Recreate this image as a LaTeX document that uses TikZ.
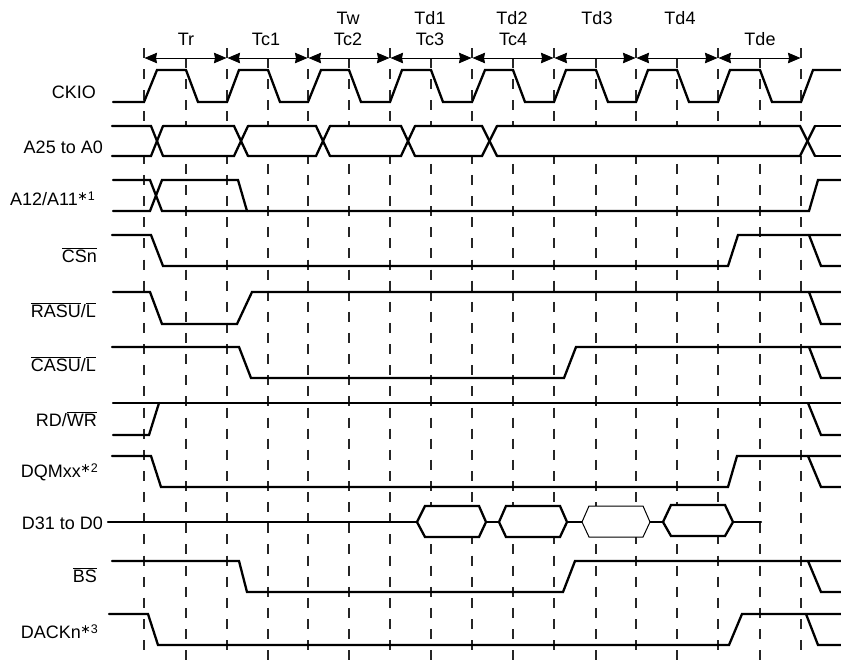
\documentclass[tikz,border=0pt]{standalone}
\usepackage{fontspec}
\setmainfont{Liberation Sans}
\newfontfamily\symfont{DejaVu Sans}
\usetikzlibrary{arrows.meta}

\newcommand{\ovl}[1]{$\overline{\mbox{#1}}$}
\newcommand{\nte}[1]{\raisebox{4.5pt}{\fontsize{12.5}{13}\selectfont\kern-0.5pt{\symfont ∗}#1}}

\begin{document}
\begin{tikzpicture}[
  x=1pt, y=-1pt,
  >={Stealth[length=12.5pt, width=10.5pt, inset=1pt]},
  font=\fontsize{18}{20}\selectfont,
  lbl/.style={anchor=base east, inner sep=0pt},
  hdr/.style={anchor=base, inner sep=0pt},
  tick/.style={line width=1.2pt, black!85, dash pattern=on 10pt off 11.15pt},
  span/.style={<->, line width=0.9pt, shorten <=0.5pt, shorten >=0.5pt},
  sig/.style={line width=2.3pt, line join=miter, line cap=round},
  bus/.style={sig, fill=white, line cap=butt},
]
  \useasboundingbox (0,0) rectangle (841,662);
  \fill[white] (0,0) rectangle (841,662);

  % dashed clock lines, one pair per cycle
  \foreach \xa/\xb [count=\i] in {144/186, 227/268, 308/349, 390/431, 472/513,
      554/596, 636/677, 718/760} {
    \draw[tick] (\xa,48) -- (\xa,652);
    \draw[tick] (\xb,58) -- (\xb,662);
    \coordinate (t\i) at (\xa,58);
  }
  \draw[tick] (801,48) -- (801,652);
  \coordinate (t9) at (801,58);

  \foreach \i [evaluate=\i as \j using {int(\i + 1)}] in {1, ..., 8}
    \draw[span] (t\i) -- (t\j);

  \foreach \name/\x/\y/\txt in {%
      tr/186/45/Tr, tca/266/45/Tc1, tw/348/24/Tw, tcb/348/45/Tc2, tda/430/24/Td1,
      tcc/430/45/Tc3, tdb/512/24/Td2, tcd/513/45/Tc4, tdc/597/24/Td3, tdd/680/24/Td4,
      tde/760/45/Tde}
    \node[hdr] (\name) at (\x,\y) {\txt};

  \foreach \name/\x/\y/\txt in {%
      ckio/96/98/CKIO, addr/103/153/A25 to A0, abank/95/205/{A12/A11\nte{1}},
      csn/97/262/{\ovl{CSn}}, rasu/96/317/{\ovl{RASU}/\ovl{L}},
      casu/96/371/{\ovl{CASU}/\ovl{L}}, rdwr/97/426/{RD/\ovl{WR}},
      dqm/98/477/{DQMxx\nte{2}}, data/103/529/D31 to D0, bsn/97/582/{\ovl{BS}},
      dack/98/638/{DACKn\nte{3}}}
    \node[lbl] (\name) at (\x,\y) {\txt};

  % CKIO
  \draw[sig] (113,102) -- (144,102) -- (157,70) -- (186,70) -- (198,102)
    -- (227,102) -- (239,70) -- (268,70) -- (280,102)
    -- (308,102) -- (321,70) -- (349,70) -- (361,102)
    -- (390,102) -- (402,70) -- (431,70) -- (443,102)
    -- (472,102) -- (485,70) -- (513,70) -- (525,102)
    -- (554,102) -- (566,70) -- (596,70) -- (608,102)
    -- (636,102) -- (648,70) -- (677,70) -- (689,102)
    -- (718,102) -- (730,70) -- (760,70) -- (772,102)
    -- (801,102) -- (813,70) -- (841,70);

  % A25 to A0
  \fill[white] (112,126) rectangle (841,156);
  \foreach \xa/\xb [remember=\xb as \xp (initially 112)] in {%
      151/163, 234/248, 316/330, 401/415, 482/497, 800/815} {
    \draw[sig] (\xp,126) -- (\xa,126) -- (\xb,156);
    \draw[sig] (\xp,156) -- (\xa,156) -- (\xb,126);
  }
  \draw[sig] (815,126) -- (841,126);
  \draw[sig] (815,156) -- (841,156);

  % A12/A11
  \draw[sig] (113,180) -- (150,180) -- (162,211) -- (809,211) -- (818,180) -- (841,180);
  \draw[sig] (113,211) -- (150,211) -- (162,180) -- (238,180) -- (247,211);

  % falling, rising, then falling again at the end of the cycle
  \foreach \hi/\lo/\xs/\fa/\fe/\ra/\re/\ea/\ee in {%
      235/266/112/151/163/728/738/809/821,
      292/324/113/150/162/237/252/809/821,
      347/378/112/239/251/564/576/809/821,
      456/487/112/151/161/728/737/808/821,
      561/592/112/239/247/563/575/808/821,
      614/645/109/148/158/729/742/806/818} {
    \draw[sig] (\xs,\hi) -- (\fa,\hi) -- (\fe,\lo) -- (\ra,\lo) -- (\re,\hi) -- (841,\hi);
    \draw[sig] (\ea,\hi) -- (\ee,\lo) -- (841,\lo);
  }

  % RD/WR
  \draw[sig] (113,403) -- (841,403);
  \draw[sig] (113,435) -- (149,435) -- (159,403);
  \draw[sig] (808,403) -- (821,435) -- (841,435);

  % D31 to D0
  \draw[sig] (108,522) -- (417,522);
  \draw[sig] (486,522) -- (499,522);
  \draw[sig] (567,522) -- (582,522);
  \draw[sig] (650,522) -- (663,522);
  \draw[sig] (733,522) -- (761,522);
  \foreach \xa/\xb/\xc/\xd/\yt/\yb/\wd in {%
      417/425/479/486/506/537/2.3pt, 499/506/560/567/506/537/2.3pt,
      582/589/643/650/506/537/1pt, 663/671/725/733/505/536/2.3pt}
    \draw[bus, line width=\wd] (\xa,522) -- (\xb,\yt) -- (\xc,\yt) -- (\xd,522)
      -- (\xc,\yb) -- (\xb,\yb) -- cycle;
\end{tikzpicture}
\end{document}
